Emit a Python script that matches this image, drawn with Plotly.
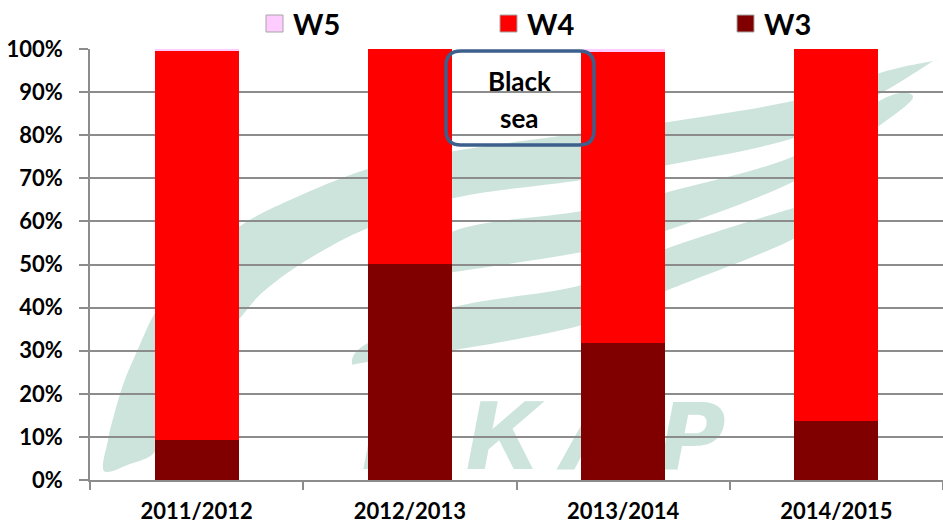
import plotly.graph_objects as go

# ---------------- data ----------------
seasons = ["2011/2012", "2012/2013", "2013/2014", "2014/2015"]
series_names = ["W3", "W4", "W5"]
w3 = [0.092, 0.502, 0.318, 0.136]
w4 = [0.905, 0.498, 0.676, 0.864]
w5 = [0.003, 0.000, 0.006, 0.000]
series_values = [w3, w4, w5]
series_colors = ["#800000", "#FF0000", "#FFCCFF"]
y_ticks = [i / 10 for i in range(11)]
box_lines = ["Black", "sea"]
watermark_letters = ["И", "К", "А", "Р"]

# ---------------- geometry helpers (pixel -> paper) ----------------
W, H = 943, 523
L, R, T, B = 90, 0, 49, 43
PW, PH = W - L - R, H - T - B


def px(x):
    return (x - L) / PW


def py(y):
    return (H - B - y) / PH


def smooth_closed(points):
    """Catmull-Rom through pixel points, returned as an SVG path in paper coords."""
    pts = [(px(x), py(y)) for x, y in points]
    n = len(pts)
    d = f"M{pts[0][0]},{pts[0][1]}"
    for i in range(n):
        p0 = pts[(i - 1) % n]
        p1 = pts[i]
        p2 = pts[(i + 1) % n]
        p3 = pts[(i + 2) % n]
        c1 = (p1[0] + (p2[0] - p0[0]) / 6, p1[1] + (p2[1] - p0[1]) / 6)
        c2 = (p2[0] - (p3[0] - p1[0]) / 6, p2[1] - (p3[1] - p1[1]) / 6)
        d += f" C{c1[0]},{c1[1]} {c2[0]},{c2[1]} {p2[0]},{p2[1]}"
    return d + " Z"


fig = go.Figure()
for name, vals, col in zip(series_names, series_values, series_colors):
    fig.add_trace(go.Bar(
        x=seasons, y=vals, name=name, marker=dict(color=col, line=dict(width=0)),
        showlegend=False,
    ))

shapes = []
annotations = []
wm_color = "#cde4dd"

# watermark swooshes (decorative background)
bandA_top = [(104, 471), (108, 440), (114, 415), (124, 382), (138, 349), (155, 313), (178, 284),
             (205, 257), (240, 226), (290, 200), (368, 169), (454, 151), (582, 133), (668, 122),
             (797, 100), (883, 72), (933, 61)]
bandA_bot = [(104, 471), (130, 464), (154, 453), (168, 425), (185, 390), (210, 350), (240, 318),
             (263, 292), (307, 260), (368, 228), (454, 198), (582, 180), (668, 165), (797, 137),
             (883, 92), (930, 63)]
shapes.append(dict(type="path", xref="paper", yref="paper", layer="below",
                   path=smooth_closed(bandA_top + bandA_bot[::-1][:-1]),
                   fillcolor=wm_color, line=dict(width=0)))
bandB_top = [(390, 282), (454, 231), (582, 211), (668, 192), (797, 155), (883, 99), (913, 97)]
bandB_bot = [(390, 282), (454, 272), (582, 252), (668, 230), (797, 180), (883, 123), (913, 97)]
shapes.append(dict(type="path", xref="paper", yref="paper", layer="below",
                   path=smooth_closed(bandB_top + bandB_bot[::-1][1:-1]),
                   fillcolor=wm_color, line=dict(width=0)))
bandC_top = [(352, 363), (368, 343), (454, 307), (582, 285), (668, 248), (797, 207), (835, 198)]
bandC_bot = [(352, 363), (368, 362), (454, 350), (582, 325), (668, 290), (797, 237), (835, 198)]
shapes.append(dict(type="path", xref="paper", yref="paper", layer="below",
                   path=smooth_closed(bandC_top + bandC_bot[::-1][1:-1]),
                   fillcolor=wm_color, line=dict(width=0)))

# watermark letters
letter_centers = [400, 503, 598, 692]
for ch, cx in zip(watermark_letters, letter_centers):
    shapes.append(dict(type="rect", xref="paper", yref="paper", layer="below",
                       x0=px(cx - 50), x1=px(cx + 50), y0=py(475), y1=py(385),
                       line=dict(width=0), fillcolor="rgba(0,0,0,0)",
                       label=dict(text=ch, textposition="middle center",
                                  font=dict(family="DejaVu Sans", size=92, color=wm_color,
                                            weight="bold", style="italic"))))

# "Black sea" rounded box
bx0, bx1, by0, by1, rr = 446, 594, 51, 145, 15
box_path = (f"M{px(bx0 + rr)},{py(by0)} L{px(bx1 - rr)},{py(by0)} "
            f"Q{px(bx1)},{py(by0)} {px(bx1)},{py(by0 + rr)} "
            f"L{px(bx1)},{py(by1 - rr)} Q{px(bx1)},{py(by1)} {px(bx1 - rr)},{py(by1)} "
            f"L{px(bx0 + rr)},{py(by1)} Q{px(bx0)},{py(by1)} {px(bx0)},{py(by1 - rr)} "
            f"L{px(bx0)},{py(by0 + rr)} Q{px(bx0)},{py(by0)} {px(bx0 + rr)},{py(by0)} Z")
shapes.append(dict(type="path", xref="paper", yref="paper", layer="above", path=box_path,
                   line=dict(color="#3d5f8c", width=3.5), fillcolor="rgba(0,0,0,0)"))
for txt, ty in zip(box_lines, [81, 118]):
    annotations.append(dict(text=txt, xref="paper", yref="paper", x=px(519), y=py(ty),
                            xanchor="center", yanchor="middle", showarrow=False,
                            font=dict(family="Lato", size=26, color="#000000", weight="bold")))

# manual legend (reversed order: W5, W4, W3)
leg_x = [266, 500, 737]
for (name, col), lx in zip(list(zip(series_names, series_colors))[::-1], leg_x):
    shapes.append(dict(type="rect", xref="paper", yref="paper", x0=px(lx), x1=px(lx + 17),
                       y0=py(32), y1=py(15), fillcolor=col,
                       line=dict(color="#a6a6a6", width=1)))
    annotations.append(dict(text=name, xref="paper", yref="paper", x=px(lx + 25), y=py(23.5),
                            xanchor="left", yanchor="middle", showarrow=False,
                            font=dict(family="Lato", size=29, color="#000000", weight="bold")))

axis_gray = "#8c8c8c"
fig.update_layout(
    width=W, height=H, margin=dict(l=L, r=R, t=T, b=B, autoexpand=False),
    barmode="stack", bargap=0.606,
    plot_bgcolor="rgba(0,0,0,0)", paper_bgcolor="#ffffff",
    shapes=shapes, annotations=annotations, showlegend=False,
    xaxis=dict(showline=True, linecolor=axis_gray, linewidth=1.5, ticks="outside",
               tickson="boundaries", ticklen=8, tickcolor=axis_gray, tickwidth=1.5,
               showgrid=False, automargin=False, ticklabelstandoff=11,
               tickfont=dict(family="Lato", size=22, color="#000000", weight="bold")),
    yaxis=dict(range=[0, 1], tickvals=y_ticks, tickformat=".0%", showgrid=True,
               gridcolor=axis_gray, gridwidth=1.5, zeroline=False, showline=True,
               linecolor=axis_gray, linewidth=1.5, ticks="outside", ticklen=9,
               tickcolor=axis_gray, tickwidth=1.5, ticklabelstandoff=12, automargin=False,
               tickfont=dict(family="Lato", size=22, color="#000000", weight="bold")),
)

fig.write_html("out.html", config={"displayModeBar": False},
               post_script="document.body.style.margin='0';")
